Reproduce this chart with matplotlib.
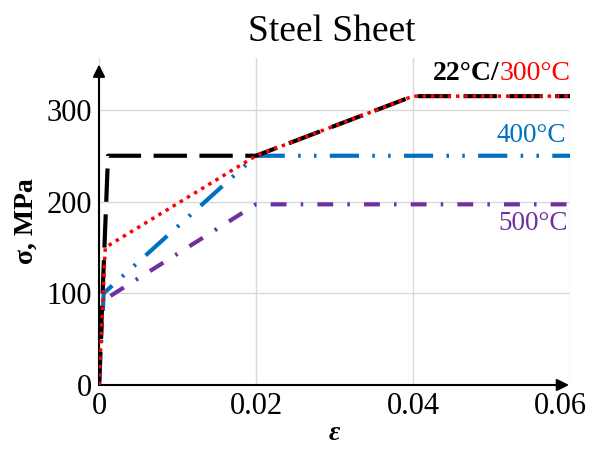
import matplotlib
matplotlib.use("Agg")
import matplotlib.pyplot as plt
import matplotlib.transforms as mtransforms

# Data
strain_22 = [0.0, 0.00115, 0.02, 0.04, 0.06]
stress_22 = [0, 250, 250, 315, 315]
strain_300 = [0.0, 0.0008, 0.02, 0.04, 0.06]
stress_300 = [0, 150, 250, 315, 315]
strain_400 = [0.0, 0.0006, 0.02, 0.06]
stress_400 = [0, 100, 250, 250]
strain_500 = [0.0, 0.0005, 0.02, 0.06]
stress_500 = [0, 92, 197, 197]
xticks = [0, 0.02, 0.04, 0.06]
xticklabels = ["0", "0.02", "0.04", "0.06"]
yticks = [0, 100, 200, 300]
yticklabels = ["0", "100", "200", "300"]

plt.rcParams['font.family'] = ['Liberation Serif', 'DejaVu Serif']

fig = plt.figure(figsize=(5.91, 4.5), dpi=100)
ax = fig.add_axes([99/591, 65/450, 471/591, 327/450])
ax.set_xlim(0, 0.06)
ax.set_ylim(0, 356.6)

BLUE = '#0070C0'
PURPLE = '#7030A0'
RED = '#FF0000'

ax.plot(strain_500, stress_500, color=PURPLE, lw=3, dashes=(3.8, 3.4, 0.6, 3.4), zorder=3)
ax.plot(strain_400, stress_400, color=BLUE, lw=3, dashes=(7, 3.2, 0.6, 3.2, 0.6, 3.2), zorder=3)
ax.plot(strain_22, stress_22, color='black', lw=3, dashes=(8, 3), zorder=4)
ax.plot(strain_300, stress_300, color=RED, lw=2.5, dashes=(1, 1.4), zorder=5)

ax.set_xticks(xticks)
ax.set_xticklabels(xticklabels)
ax.set_yticks(yticks)
ax.set_yticklabels(yticklabels)
ax.tick_params(length=0, labelsize=22)
ax.tick_params(axis='x', pad=5)
ax.tick_params(axis='y', pad=5)
ax.grid(True, color='#d9d9d9', lw=1)
ax.set_axisbelow(True)
for s in ax.spines.values():
    s.set_visible(False)

# shift last x tick label left so it fits
lbl = ax.get_xticklabels()[-1]
lbl.set_transform(lbl.get_transform() + mtransforms.ScaledTranslation(-10/100, 0, fig.dpi_scale_trans))

ax.annotate('', xy=(0, 0.98), xytext=(0, 0), xycoords='axes fraction',
            arrowprops=dict(arrowstyle='-|>', color='black', lw=1.5, mutation_scale=18, shrinkA=0, shrinkB=0))
ax.annotate('', xy=(0.998, 0), xytext=(0, 0), xycoords='axes fraction',
            arrowprops=dict(arrowstyle='-|>', color='black', lw=1.5, mutation_scale=18, shrinkA=0, shrinkB=0))

fig.text(0.561, 0.93, 'Steel Sheet', fontsize=27, ha='center', va='center')
ax.set_xlabel('ε', fontsize=20, fontweight='bold', fontstyle='italic', labelpad=0)
ax.set_ylabel('σ, MPa', fontsize=20, fontweight='bold', labelpad=6)

t300 = ax.text(0.0601, 326, '300°C', fontsize=20, color=RED, ha='right', va='bottom')
fig.canvas.draw()
bb = t300.get_window_extent(fig.canvas.get_renderer())
off = mtransforms.offset_copy(ax.transData, fig=fig, x=-(bb.width) * 72 / fig.dpi, y=0, units='points')
ax.text(0.0601, 326, '22°C/', fontsize=20, color='black', fontweight='bold',
        ha='right', va='bottom', transform=off)
ax.text(0.0595, 258, '400°C', fontsize=19.5, color=BLUE, ha='right', va='bottom')
ax.text(0.0597, 163, '500°C', fontsize=19.5, color=PURPLE, ha='right', va='bottom')

fig.savefig('out.png', dpi=100)
